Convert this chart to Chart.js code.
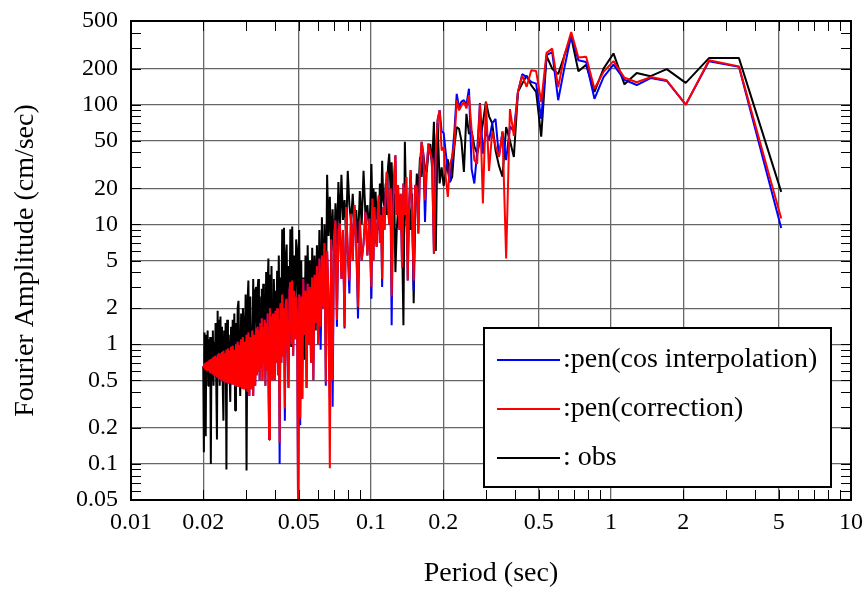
<!DOCTYPE html>
<html>
<head>
<meta charset="utf-8">
<script src="https://cdn.jsdelivr.net/npm/chart.js@4.4.1/dist/chart.umd.min.js"></script>
<style>
  html, body { margin: 0; padding: 0; background: #fff; }
</style>
</head>
<body>
<canvas id="myChart" width="865" height="592"></canvas>
<script>
// Period (sec) shared by the three spectra
const period = [
  // 0.020 - 0.033
  0.02, 0.02012, 0.02024, 0.02036, 0.02048, 0.0206, 0.02073, 0.02086, 0.02098, 0.02111,
  0.02124, 0.02138, 0.02151, 0.02165, 0.02179, 0.02193, 0.02207, 0.02221, 0.02236, 0.02251,
  0.02265, 0.02281, 0.02296, 0.02312, 0.02327, 0.02343, 0.02359, 0.02376, 0.02393, 0.02409,
  0.02427, 0.02444, 0.02462, 0.02479, 0.02498, 0.02516, 0.02535, 0.02554, 0.02573, 0.02592,
  0.02612, 0.02632, 0.02653, 0.02674, 0.02695, 0.02716, 0.02738, 0.0276, 0.02783, 0.02805,
  0.02829, 0.02852, 0.02876, 0.02901, 0.02926, 0.02951, 0.02977, 0.03003, 0.0303, 0.03057,
  0.03084, 0.03112, 0.03141, 0.0317, 0.032, 0.0323, 0.03261, 0.03293, 0.03325,
  // 0.033 - 0.050
  0.03346, 0.03368, 0.03391, 0.03413, 0.03436, 0.03459, 0.03483, 0.03507, 0.03531, 0.03556,
  0.0358, 0.03606, 0.03631, 0.03657, 0.03683, 0.0371, 0.03737, 0.03765, 0.03793, 0.03821,
  0.0385, 0.03879, 0.03908, 0.03938, 0.03969, 0.04, 0.04031, 0.04063, 0.04096, 0.04129,
  0.04163, 0.04197, 0.04231, 0.04267, 0.04303, 0.04339, 0.04376, 0.04414, 0.04452, 0.04491,
  0.04531, 0.04571, 0.04613, 0.04655, 0.04697, 0.04741, 0.04785, 0.0483, 0.04876, 0.04923,
  0.04971, 0.0502,
  // 0.05 - 0.10
  0.05069, 0.0512, 0.05172, 0.05224, 0.05278, 0.05333, 0.05389, 0.05447, 0.05505, 0.05565,
  0.05626, 0.05689, 0.05753, 0.05818, 0.05885, 0.05953, 0.06024, 0.06095, 0.06169, 0.06244,
  0.06321, 0.064, 0.06481, 0.06564, 0.06649, 0.06737, 0.06827, 0.06919, 0.07014, 0.07111,
  0.07211, 0.07314, 0.0742, 0.07529, 0.07642, 0.07758, 0.07877, 0.08, 0.08127, 0.08258,
  0.08393, 0.08533, 0.08678, 0.08828, 0.08982, 0.09143, 0.09309, 0.09481, 0.0966, 0.09846,
  0.1004,
  // 0.10 - 0.18
  0.1014, 0.1024, 0.1034, 0.1045, 0.1056, 0.1067, 0.1078, 0.1089, 0.1101, 0.1113,
  0.1125, 0.1138, 0.1151, 0.1164, 0.1177, 0.1191, 0.1205, 0.1219, 0.1234, 0.1249,
  0.1264, 0.128, 0.1296, 0.1313, 0.133, 0.1347, 0.1365, 0.1384, 0.1403, 0.1422,
  0.1442, 0.1463, 0.1484, 0.1506, 0.1528, 0.1552, 0.1575, 0.16, 0.1625, 0.1652,
  0.1679, 0.1707, 0.1736, 0.1766, 0.1796, 0.1829,
  // 0.19 - 5.12
  0.1862, 0.1896, 0.1932, 0.1969, 0.2008, 0.2048, 0.209, 0.2133, 0.2179, 0.2226,
  0.2276, 0.2327, 0.2381, 0.2438, 0.2498, 0.256, 0.2626, 0.2695, 0.2768, 0.2844,
  0.2926, 0.3012, 0.3103, 0.32, 0.3303, 0.3413, 0.3531, 0.3657, 0.3793, 0.3938,
  0.4096, 0.4267, 0.4452, 0.4655, 0.4876, 0.512, 0.5389, 0.5689, 0.6024, 0.64,
  0.6827, 0.7314, 0.7877, 0.8533, 0.9309, 1.024, 1.138, 1.28, 1.463, 1.707,
  2.048, 2.56, 3.413, 5.12
];

// :pen(cos interpolation)  (blue)
const penCos = [
  0.66, 0.64, 0.69, 0.62, 0.7, 0.61, 0.71, 0.6, 0.72, 0.6,
  0.74, 0.58, 0.75, 0.57, 0.76, 0.56, 0.78, 0.55, 0.8, 0.54,
  0.78, 0.53, 0.82, 0.52, 0.84, 0.51, 0.8, 0.5, 0.86, 0.5,
  0.88, 0.49, 0.84, 0.48, 0.9, 0.48, 0.92, 0.47, 0.88, 0.47,
  0.95, 0.46, 0.97, 0.46, 0.9, 0.45, 1.0, 0.45, 1.05, 0.44,
  0.98, 0.44, 1.1, 0.43, 1.15, 0.42, 1.05, 0.42, 1.2, 0.4,
  1.25, 0.37, 1.15, 0.42, 1.3, 0.37, 1.2, 0.45, 1.35,
  0.55, 1.4, 0.6, 1.3, 0.5, 1.5, 0.65, 1.65, 0.5, 1.4,
  0.7, 1.6, 0.45, 1.5, 0.6, 1.8, 0.55, 0.16, 2.0, 0.6,
  1.7, 0.5, 1.8, 0.65, 0.5, 1.9, 0.7, 2.0, 0.55, 1.6,
  0.1, 2.2, 0.7, 2.6, 0.8, 2.0, 0.23, 2.2, 2.4, 0.9,
  0.43, 2.8, 3.3, 1.0, 3.4, 0.8, 2.8, 1.1, 2.5, 1.7,
  0.03, 2.6,
  0.21, 2.5, 0.35, 3.5, 1.2, 2.8, 0.43, 3.2, 1.0, 3.0,
  0.7, 3.6, 0.5, 3.8, 1.5, 4.5, 1.0, 5.2, 0.9, 5.5,
  2.0, 7.0, 0.45, 6.0, 2.5, 0.35, 7.5, 0.3, 7.9, 10.8,
  1.4, 9, 10.2, 3.5, 9, 1.35, 14, 6, 2.65, 12.3,
  5, 14.5, 7, 1.64, 10.8, 5, 6.9, 12.7, 5.5, 11.2,
  2.4,
  16.5, 5, 14, 8, 6.5, 13, 17.5, 7, 12, 3.0,
  14, 9, 18, 27.5, 15, 10, 20, 1.44, 11.6, 25,
  37.8, 12, 21.3, 9, 18, 4.4, 22, 12, 24.9, 3.4,
  15, 28.4, 12, 2.8, 21.3, 20.6, 8.4, 30, 48.9, 39,
  10.5, 30, 47.3, 40, 34.4, 5.7,
  40, 75, 90, 60, 58, 40, 28, 22.6, 36, 60,
  123, 95, 106, 109, 100, 136, 29, 22, 40, 103,
  39, 61, 50, 70, 76, 36.6, 60, 34.4, 66, 60,
  128, 180, 170, 155, 150, 76, 259, 275, 109, 205,
  380, 235, 227, 112, 170, 216, 161, 146, 167, 158,
  100, 230, 207, 9.35
];

// :pen(correction)  (red)
const penCorr = [
  0.66, 0.64, 0.69, 0.62, 0.7, 0.61, 0.71, 0.6, 0.72, 0.6,
  0.74, 0.58, 0.75, 0.57, 0.76, 0.56, 0.78, 0.55, 0.8, 0.54,
  0.78, 0.53, 0.82, 0.52, 0.84, 0.51, 0.8, 0.5, 0.86, 0.5,
  0.88, 0.49, 0.84, 0.48, 0.9, 0.48, 0.92, 0.47, 0.88, 0.47,
  0.95, 0.46, 0.97, 0.46, 0.9, 0.45, 1.0, 0.45, 1.05, 0.44,
  0.98, 0.44, 1.1, 0.43, 1.15, 0.42, 1.05, 0.42, 1.2, 0.4,
  1.25, 0.37, 1.15, 0.42, 1.3, 0.37, 1.2, 0.45, 1.35,
  0.55, 1.4, 0.6, 1.3, 0.5, 1.5, 0.65, 1.65, 0.5, 1.4,
  0.7, 1.6, 0.45, 1.5, 0.6, 1.8, 0.55, 0.16, 2.0, 0.6,
  1.7, 0.5, 1.8, 0.65, 0.5, 1.9, 0.7, 2.0, 0.55, 1.6,
  0.15, 2.2, 0.7, 2.6, 0.8, 2.0, 0.29, 2.2, 2.4, 0.9,
  0.43, 2.8, 3.3, 1.0, 3.4, 0.8, 2.8, 1.1, 2.5, 1.7,
  0.03, 2.6,
  0.24, 2.5, 0.35, 3.5, 1.2, 2.8, 0.43, 3.2, 1.0, 3.0,
  0.7, 3.6, 0.5, 3.8, 1.5, 4.5, 1.0, 5.2, 1.4, 5.5,
  2.0, 7.0, 0.48, 6.0, 2.5, 0.092, 7.5, 0.5, 7.9, 10.8,
  1.59, 9, 10.2, 3.5, 9, 1.4, 14, 6, 3.4, 12.3,
  5, 14.5, 7, 2.05, 10.8, 5, 6.9, 12.7, 5.5, 11.2,
  3.0,
  16.5, 5, 14, 8, 6.5, 13, 17.5, 7, 12, 3.5,
  14, 9, 18, 27.5, 15, 10, 20, 2.5, 11.6, 25,
  37.8, 12, 21.3, 9, 18, 4.4, 22, 12, 24.9, 3.4,
  15, 28.4, 12, 3.4, 21.3, 20.6, 8.4, 30, 48.9, 39,
  15.9, 30, 47.3, 40, 34.4, 5.7,
  40, 75, 90, 41.5, 44, 25, 17, 32, 36.6, 47,
  109, 90, 98, 105, 93, 120, 61, 34.4, 32, 101,
  15, 105, 28, 60, 45, 36.6, 59, 5.2, 92, 55,
  128, 175, 141, 194, 191, 105, 271, 294, 140, 260,
  405, 248, 252, 136, 188, 231, 168, 154, 170, 160,
  100, 235, 209, 11.2
];

// : obs  (black)
const obs = [
  0.65, 0.125, 1.25, 0.5, 0.17, 1.2, 0.55, 1.3, 0.45, 1.1,
  0.6, 1.15, 0.1, 1.0, 0.5, 1.3, 0.45, 1.05, 0.6, 1.5,
  0.5, 0.16, 1.9, 0.55, 1.6, 0.45, 1.7, 0.6, 1.4, 0.5,
  0.23, 1.3, 0.55, 1.5, 0.09, 1.6, 0.5, 1.2, 0.6, 0.33,
  1.4, 0.55, 1.6, 0.65, 1.8, 0.28, 1.5, 0.6, 2.0, 2.3,
  0.7, 0.37, 1.8, 0.6, 2.0, 1.4, 0.65, 2.6, 0.088, 2.2,
  3.4, 0.8, 2.5, 0.7, 0.46, 3.5, 0.9, 2.8, 3.0,
  1.2, 2.8, 3.5, 0.9, 2.5, 1.0, 2.2, 2.9, 0.8, 3.2,
  1.1, 2.6, 0.7, 4.0, 1.2, 3.0, 5.2, 0.9, 3.8, 1.3,
  4.5, 1.0, 0.62, 3.5, 1.4, 2.8, 1.1, 4.1, 1.5, 5.5,
  0.78, 3.6, 1.6, 9.1, 2.0, 9.4, 1.5, 5.0, 6.8, 1.3,
  4.5, 1.8, 9.1, 0.95, 9.6, 2.0, 5.5, 1.4, 7.5, 6.1,
  1.6, 9.0,
  1.0, 5.0, 0.8, 3.6, 0.74, 5.5, 1.2, 6.7, 1.5, 5.0,
  1.1, 6.4, 1.8, 5.5, 1.3, 6.7, 2.0, 9.0, 1.3, 11.5,
  2.2, 10, 1.6, 26, 8, 17, 6, 13.4, 4.8, 15,
  6.8, 22.6, 9, 26, 10.9, 16, 8, 28, 14.5, 10.5,
  18, 9, 13.2, 7, 19, 10, 28, 12, 14.5, 8,
  32,
  13, 20, 12, 18.7, 11, 14.5, 9, 22, 12, 34,
  16, 14, 22, 12, 30, 39, 20, 33, 14, 18,
  4.0, 9, 13, 10, 14.5, 8, 1.44, 49, 12, 5.5,
  14, 9, 18, 2.2, 12, 26.6, 18, 36.6, 25, 37.8,
  30, 27.5, 40, 47, 30, 72,
  6, 70, 22, 30, 21, 28, 35, 22.6, 25, 45,
  65, 63, 50, 27.5, 84, 57, 60, 45, 39, 50,
  70, 106, 80, 70, 41.5, 31, 25, 65, 50, 36.6,
  128, 150, 175, 145, 128, 54, 255, 200, 180, 259,
  368, 190, 215, 128, 200, 268, 148, 184, 173, 198,
  152, 245, 245, 18.7
];

// Labelled ticks
const xTickLabels = [0.01, 0.02, 0.05, 0.1, 0.2, 0.5, 1, 2, 5, 10];
const yTickLabels = [0.05, 0.1, 0.2, 0.5, 1, 2, 5, 10, 20, 50, 100, 200, 500];

const FONT = "'Liberation Serif', 'Times New Roman', serif";

function toPoints(values) {
    return period.map(function(p, i) {
        return { x: p, y: values[i] };
    });
}

// Frame around the plot plus small inside ticks on all four sides
const frame = {
    id: 'frame',
    afterDatasetsDraw(chart) {
        const { ctx, chartArea: a, scales: { x, y } } = chart;
        ctx.save();
        ctx.strokeStyle = '#000';
        ctx.lineWidth = 1;
        ctx.beginPath();
        for (let e = -2; e <= 0; e++) {
            for (let m = 2; m <= 9; m++) {
                const px = Math.round(x.getPixelForValue(m * Math.pow(10, e))) + 0.5;
                ctx.moveTo(px, a.top); ctx.lineTo(px, a.top + 10);
                ctx.moveTo(px, a.bottom); ctx.lineTo(px, a.bottom - 10);
            }
        }
        for (let e = -2; e <= 2; e++) {
            for (let m = 1; m <= 9; m++) {
                const v = m * Math.pow(10, e);
                if (v <= 0.05 || v >= 500) continue;
                const py = Math.round(y.getPixelForValue(v)) + 0.5;
                ctx.moveTo(a.left, py); ctx.lineTo(a.left + 10, py);
                ctx.moveTo(a.right, py); ctx.lineTo(a.right - 10, py);
            }
        }
        ctx.stroke();
        ctx.lineWidth = 2;
        ctx.strokeRect(a.left, a.top, a.right - a.left, a.bottom - a.top);
        ctx.restore();
    }
};

// Boxed legend in the lower right, blue / red / black
const boxLegend = {
    id: 'boxLegend',
    afterDraw(chart) {
        const { ctx, chartArea: a } = chart;
        const w = 347, h = 159;
        const left = a.right - 20 - w;
        const top = a.bottom - 13 - h;
        ctx.save();
        ctx.fillStyle = '#fff';
        ctx.fillRect(left, top, w, h);
        ctx.strokeStyle = '#000';
        ctx.lineWidth = 2;
        ctx.strokeRect(left, top, w, h);
        ctx.font = '28px ' + FONT;
        ctx.textBaseline = 'middle';
        chart.data.datasets.forEach(function(ds, i) {
            const yy = top + 32 + i * 49;
            ctx.strokeStyle = ds.borderColor;
            ctx.lineWidth = 2;
            ctx.beginPath();
            ctx.moveTo(left + 13, yy);
            ctx.lineTo(left + 76, yy);
            ctx.stroke();
            ctx.fillStyle = '#000';
            ctx.fillText(ds.label, left + 79, yy);
        });
        ctx.restore();
    }
};

function gridColor(edges) {
    return function(c) {
        if (!c.tick) return 'rgba(0,0,0,0)';
        return edges.indexOf(c.tick.value) >= 0 ? 'rgba(0,0,0,0)' : '#666';
    };
}

const data = {
    datasets: [
        { label: ':pen(cos interpolation)', data: toPoints(penCos), borderColor: '#0000ff', order: 1 },
        { label: ':pen(correction)', data: toPoints(penCorr), borderColor: '#ff0000', order: 0 },
        { label: ': obs', data: toPoints(obs), borderColor: '#000000', order: 2 }
    ]
};

const config = {
    type: 'line',
    data,
    options: {
        responsive: false,
        animation: false,
        devicePixelRatio: 1,
        layout: { padding: { top: 21, right: 14, left: 0, bottom: 0 } },
        elements: {
            line: { borderWidth: 2, tension: 0, fill: false, borderJoinStyle: 'bevel' },
            point: { radius: 0, hoverRadius: 0 }
        },
        plugins: { legend: { display: false }, tooltip: { enabled: false } },
        scales: {
            x: {
                type: 'logarithmic',
                min: 0.01,
                max: 10,
                afterBuildTicks: function(s) { s.ticks = xTickLabels.map(v => ({ value: v })); },
                afterFit: function(s) {
                    s.height = 92;
                    s.paddingLeft = 0;
                    s.paddingRight = 0;
                },
                ticks: {
                    autoSkip: false, maxRotation: 0, padding: 8, color: '#000',
                    font: { family: FONT, size: 24 },
                    callback: v => String(v)
                },
                grid: { drawTicks: false, lineWidth: 1.3, color: gridColor([0.01, 10]) },
                border: { display: false },
                title: {
                    display: true, text: 'Period (sec)', color: '#000',
                    font: { family: FONT, size: 28 }, padding: { top: 0, bottom: 2 }
                }
            },
            y: {
                type: 'logarithmic',
                min: 0.05,
                max: 500,
                afterBuildTicks: function(s) { s.ticks = yTickLabels.map(v => ({ value: v })); },
                afterFit: function(s) {
                    s.width = 131;
                    s.paddingTop = 0;
                    s.paddingBottom = 0;
                },
                ticks: {
                    autoSkip: false, padding: 13, color: '#000',
                    font: { family: FONT, size: 24 },
                    callback: v => String(v)
                },
                grid: { drawTicks: false, lineWidth: 1.3, color: gridColor([0.05, 500]) },
                border: { display: false },
                title: {
                    display: true, text: 'Fourier Amplitude (cm/sec)', color: '#000',
                    font: { family: FONT, size: 28 }, padding: { top: 9, bottom: 0 }
                }
            }
        }
    },
    plugins: [frame, boxLegend]
};

const myChart = new Chart(document.getElementById('myChart'), config);
</script>
</body>
</html>
